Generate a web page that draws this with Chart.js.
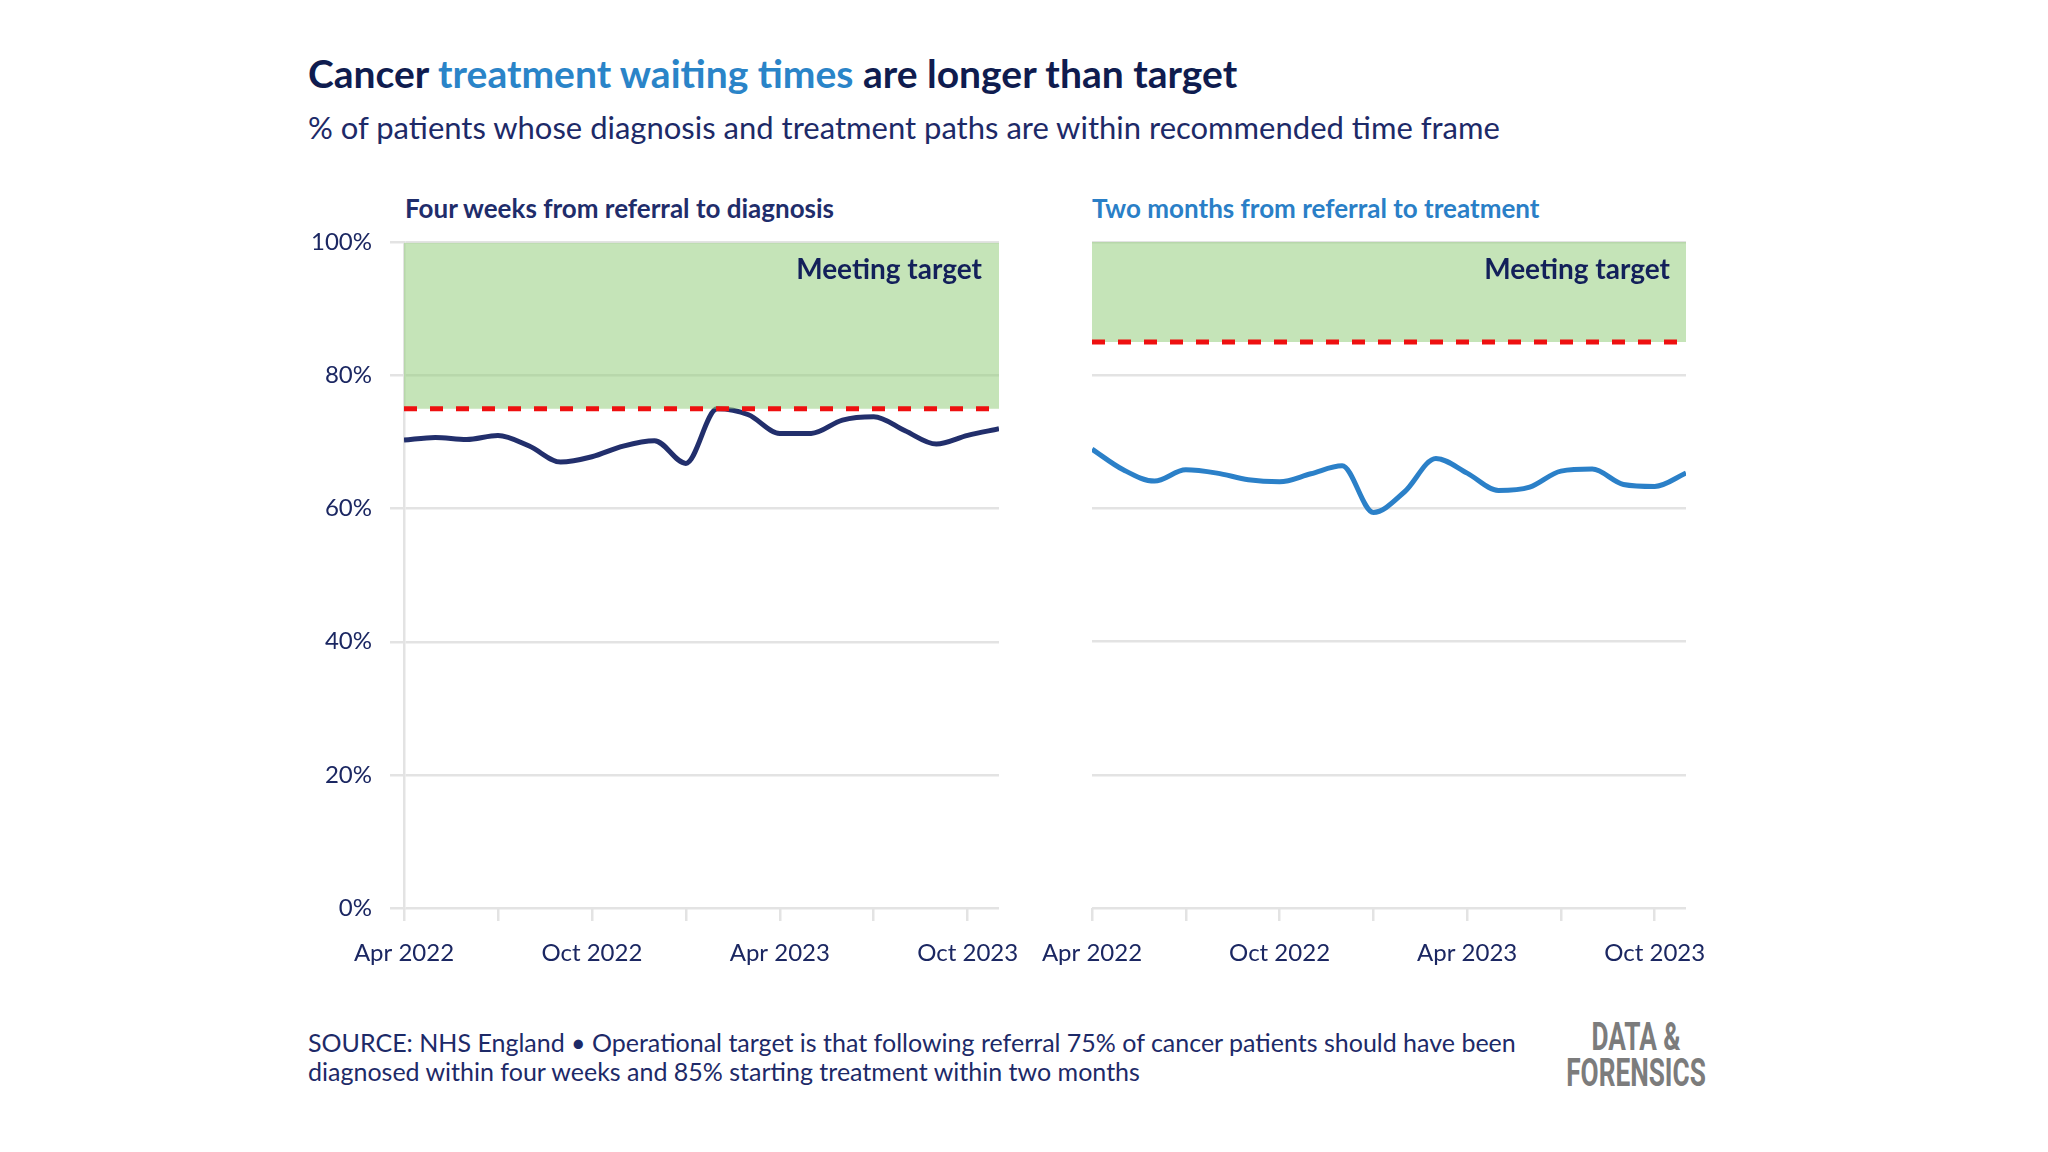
<!DOCTYPE html>
<html>
<head>
<meta charset="utf-8">
<script src="https://cdn.jsdelivr.net/npm/chart.js@4.4.1/dist/chart.umd.min.js"></script>
<style>
  html, body { margin: 0; padding: 0; background: #fff; }
  body { width: 2048px; height: 1152px; position: relative; overflow: hidden; font-family: Lato, sans-serif; color: #13205a; }
  .txt { position: absolute; white-space: nowrap; line-height: 1; }
  #title { left: 308px; top: 54px; font-size: 39px; font-weight: 700; color: #0f1c4f; }
  #title span { color: #2a84c8; }
  #subtitle { left: 308px; top: 112px; font-size: 31px; color: #1d2a68; }
  .panel { top: 195px; font-size: 26px; font-weight: 700; }
  #panelLeft { left: 405px; color: #1f2d6b; }
  #panelRight { left: 1092px; color: #2a7fc7; }
  .target { top: 254px; font-size: 28px; font-weight: 700; color: #13205a; }
  #targetLeft { right: 1066px; }
  #targetRight { right: 378px; }
  #footer { position: absolute; left: 308px; top: 1028px; font-size: 25px; line-height: 29px; color: #1d2a68; }
  #logo { position: absolute; left: 1486px; top: 1019px; width: 300px; text-align: center; font-family: Roboto, sans-serif;
          font-weight: 700; font-size: 38px; line-height: 36px; color: #7c7c7c; transform: scaleX(0.69); }
  .wrap { position: absolute; top: 210px; height: 778px; }
  #leftWrap { left: 294px; width: 745px; }
  #rightWrap { left: 1012px; width: 714px; }
</style>
</head>
<body>
<div id="title" class="txt">Cancer <span>treatment waiting times</span> are longer than target</div>
<div id="subtitle" class="txt">% of patients whose diagnosis and treatment paths are within recommended time frame</div>
<div id="panelLeft" class="txt panel">Four weeks from referral to diagnosis</div>
<div id="panelRight" class="txt panel">Two months from referral to treatment</div>

<div id="leftWrap" class="wrap"><canvas id="leftChart"></canvas></div>
<div id="rightWrap" class="wrap"><canvas id="rightChart"></canvas></div>

<div id="targetLeft" class="txt target">Meeting target</div>
<div id="targetRight" class="txt target">Meeting target</div>

<div id="footer">SOURCE: NHS England • Operational target is that following referral 75% of cancer patients should have been<br>diagnosed within four weeks and 85% starting treatment within two months</div>
<div id="logo">DATA &amp;<br>FORENSICS</div>

<script>
const months = ['Apr 2022', 'May 2022', 'Jun 2022', 'Jul 2022', 'Aug 2022', 'Sep 2022', 'Oct 2022', 'Nov 2022',
  'Dec 2022', 'Jan 2023', 'Feb 2023', 'Mar 2023', 'Apr 2023', 'May 2023', 'Jun 2023', 'Jul 2023',
  'Aug 2023', 'Sep 2023', 'Oct 2023', 'Nov 2023'];

// four weeks from referral to diagnosis (%)
const diagnosisPct = [70.3, 70.7, 70.4, 71.0, 69.4, 67.0, 67.8, 69.4, 70.2, 66.8,
  75.0, 74.1, 71.3, 71.3, 73.3, 73.8, 71.7, 69.7, 71.0, 72.0];

// two months from referral to treatment (%)
const treatmentPct = [68.9, 65.8, 64.1, 65.8, 65.3, 64.3, 64.0, 65.2, 66.4, 59.4,
  62.5, 67.5, 65.3, 62.7, 63.2, 65.6, 65.9, 63.6, 63.3, 65.3];

const diagnosisTarget = 75;
const treatmentTarget = 85;
const yTicks = [0, 20, 40, 60, 80, 100];
const tickEvery = 3;   // tick marks every quarter
const labelEvery = 6;  // labels every half year

const gridColor = '#e3e3e3';
const textColor = '#1b2762';

Chart.defaults.font.family = 'Lato, sans-serif';

function buildChart(id, values, target, lineColor, withYLabels) {
  const line = values.map((v, i) => ({ x: i, y: v }));
  const targetLine = months.map((m, i) => ({ x: i, y: target }));
  const band = months.map((m, i) => ({ x: i, y: yTicks[yTicks.length - 1] }));

  return new Chart(document.getElementById(id), {
    type: 'line',
    data: {
      datasets: [
        { data: targetLine, borderColor: '#ee1010', borderWidth: 5, borderDash: [13, 13], pointRadius: 0, fill: false },
        { data: band, borderColor: 'transparent', borderWidth: 0, pointRadius: 0,
          backgroundColor: 'rgba(150,205,125,0.55)', fill: { value: target } },
        { data: line, borderColor: lineColor, borderWidth: 5, pointRadius: 0,
          cubicInterpolationMode: 'monotone', fill: false }
      ]
    },
    options: {
      responsive: true,
      maintainAspectRatio: false,
      animation: false,
      layout: { padding: { top: 32, bottom: 10, left: withYLabels ? 0 : 80, right: 40 } },
      plugins: { legend: { display: false }, tooltip: { enabled: false } },
      scales: {
        x: {
          type: 'linear',
          min: 0,
          max: months.length - 1,
          grid: { drawOnChartArea: false, drawTicks: true, tickLength: 13, color: gridColor, lineWidth: 2.5 },
          border: { display: false },
          ticks: {
            stepSize: tickEvery, includeBounds: false, autoSkip: false, maxRotation: 0, padding: 18,
            color: textColor, font: { size: 24 },
            callback: v => (v % labelEvery === 0 ? months[v] : '')
          },
          afterFit: s => { s.height = 70; }
        },
        y: {
          min: yTicks[0],
          max: yTicks[yTicks.length - 1],
          grid: { color: gridColor, lineWidth: 2.5, drawTicks: withYLabels, tickLength: 14 },
          border: { display: withYLabels, color: gridColor, width: 2.5 },
          ticks: {
            display: withYLabels, stepSize: 20, padding: 18, color: textColor, font: { size: 24 },
            callback: v => v + '%'
          },
          afterFit: s => { s.width = withYLabels ? 110 : 0; }
        }
      }
    }
  });
}

buildChart('leftChart', diagnosisPct, diagnosisTarget, '#222f6c', true);
buildChart('rightChart', treatmentPct, treatmentTarget, '#2b80c8', false);
</script>
</body>
</html>
